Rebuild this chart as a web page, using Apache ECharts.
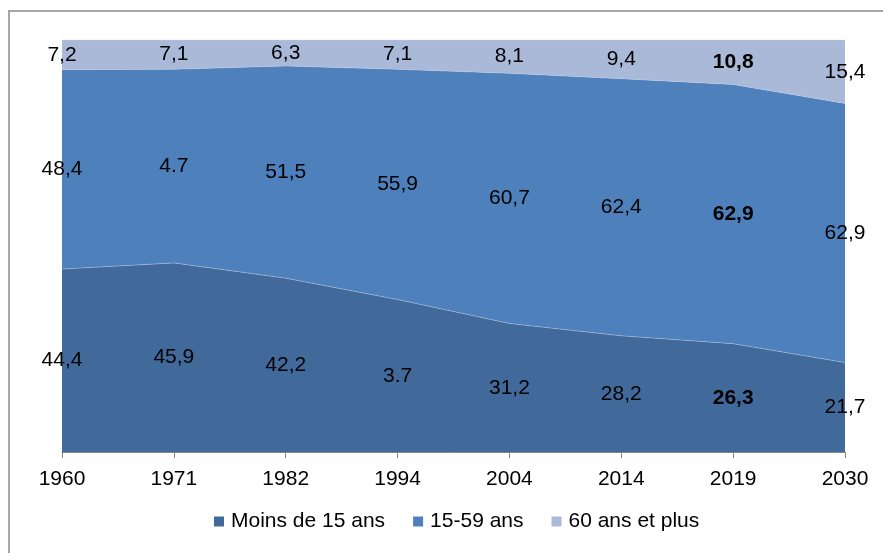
<!DOCTYPE html>
<html>
<head>
<meta charset="utf-8">
<script src="https://cdn.jsdelivr.net/npm/echarts@6/dist/echarts.min.js"></script>
<style>
  html, body { margin: 0; padding: 0; background: #fff; overflow: hidden; }
  #frame { position: absolute; left: 8px; top: 10px; width: 900px; height: 600px; border: 2px solid #a6a6a6; }
  #chart { position: absolute; left: 0; top: 0; width: 883px; height: 553px; }
</style>
</head>
<body>
<div id="frame"></div>
<div id="chart"></div>
<script>
// 数据
const years = ["1960", "1971", "1982", "1994", "2004", "2014", "2019", "2030"];
const moins15 = [44.4, 45.9, 42.2, 37.0, 31.2, 28.2, 26.3, 21.7];
const age15a59 = [48.4, 47.0, 51.5, 55.9, 60.7, 62.4, 62.9, 62.9];
const plus60 = [7.2, 7.1, 6.3, 7.1, 8.1, 9.4, 10.8, 15.4];
// texte des étiquettes tel qu'affiché
const moins15Labels = ["44,4", "45,9", "42,2", "3.7", "31,2", "28,2", "26,3", "21,7"];
const age15a59Labels = ["48,4", "4.7", "51,5", "55,9", "60,7", "62,4", "62,9", "62,9"];
const plus60Labels = ["7,2", "7,1", "6,3", "7,1", "8,1", "9,4", "10,8", "15,4"];
const boldIndex = 6;

const COLORS = { moins: "#416a9b", mid: "#4e80bc", plus: "#aab9d8" };
const FONT = "Liberation Sans, Arial, sans-serif";
const FS = 21;

const chart = echarts.init(document.getElementById("chart"), null, { renderer: "canvas" });

function areaSeries(name, values, color) {
  return {
    name: name, type: "line", stack: "total", data: values,
    symbol: "none", smooth: false,
    lineStyle: { width: 0.8, color: "rgba(190,205,230,0.55)" },
    areaStyle: { color: color, opacity: 1 },
    itemStyle: { color: color },
    emphasis: { disabled: true },
    z: 2
  };
}

// barres invisibles empilées pour centrer les étiquettes dans chaque bande
function labelSeries(key, values, labels) {
  return {
    name: key, type: "bar", stack: "labels", barWidth: 1,
    itemStyle: { color: "transparent" },
    clip: false,
    data: values.map((v, i) => ({
      value: v,
      label: i === boldIndex ? { fontWeight: "bold" } : undefined
    })),
    label: {
      show: true, position: "inside", color: "#000", fontSize: FS, fontFamily: FONT,
      formatter: p => labels[p.dataIndex]
    },
    emphasis: { disabled: true },
    silent: true,
    z: 5
  };
}

chart.setOption({
  animation: false,
  backgroundColor: "transparent",
  textStyle: { fontFamily: FONT },
  grid: { left: 62, right: 38, top: 40, bottom: 101 },
  legend: {
    data: ["Moins de 15 ans", "15-59 ans", "60 ans et plus"],
    bottom: 16, left: 209,
    icon: "rect", itemWidth: 10, itemHeight: 10, itemGap: 28,
    textStyle: { color: "#000", fontSize: FS, fontFamily: FONT, padding: [0, 0, 0, 2] }
  },
  xAxis: {
    type: "category", data: years, boundaryGap: false,
    axisLine: { lineStyle: { color: "#868686", width: 1 } },
    axisTick: { show: true, length: 6, lineStyle: { color: "#868686" } },
    axisLabel: { color: "#000", fontSize: FS, fontFamily: FONT, margin: 17 }
  },
  yAxis: {
    type: "value", min: 0, max: 100, interval: 10,
    axisLine: { show: false }, axisTick: { show: false },
    axisLabel: { show: false }, splitLine: { show: false }
  },
  series: [
    areaSeries("Moins de 15 ans", moins15, COLORS.moins),
    areaSeries("15-59 ans", age15a59, COLORS.mid),
    areaSeries("60 ans et plus", plus60, COLORS.plus),
    labelSeries("l1", moins15, moins15Labels),
    labelSeries("l2", age15a59, age15a59Labels),
    labelSeries("l3", plus60, plus60Labels)
  ]
});
</script>
</body>
</html>
